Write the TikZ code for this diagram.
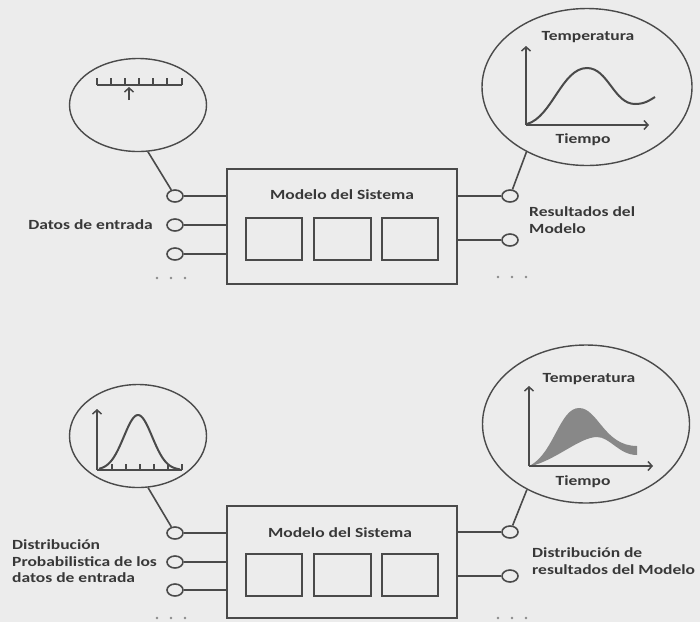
\documentclass[tikz,border=0pt]{standalone}
\usepackage{fontspec}
\newfontfamily\lbl{Carlito}[FakeStretch=1.25]
\usetikzlibrary{shapes.geometric,arrows.meta}
\definecolor{bg}{HTML}{ECECEC}
\definecolor{linec}{HTML}{4A4A4A}
\definecolor{textc}{HTML}{383838}
\definecolor{bandc}{HTML}{888888}
\definecolor{dotcol}{HTML}{8A8A8A}
\begin{document}
\begin{tikzpicture}[x=1pt,y=-1pt,
  port/.style={ellipse, draw=linec, line width=1.6pt, minimum width=16pt, minimum height=12pt, inner sep=0pt},
  bubble/.style={ellipse, draw=linec, line width=1.4pt, inner sep=0pt},
  sysbox/.style={draw=linec, line width=1.6pt, minimum width=230pt, inner sep=0pt},
  inbox/.style={draw=linec, line width=1.6pt, minimum height=42pt, inner sep=0pt},
  lab/.style={font=\lbl\bfseries\fontsize{14}{16.5}\selectfont, text=textc, inner sep=0pt},
  wire/.style={draw=linec, line width=1.6pt},
  ax/.style={draw=linec, line width=1.5pt},
  tip/.style={-{Straight Barb[length=4pt,width=9pt]}},
  dotc/.style={fill=dotcol}
]
\fill[bg] (0,0) rectangle (700,622);
\useasboundingbox (0,0) rectangle (700,622);

% ================= TOP DIAGRAM =================
\node[sysbox, minimum height=115pt] (sysA) at (342,226.5) {};
\node[lab] (titA) at (342,195) {Modelo del Sistema};
\node[inbox, minimum width=56pt] (ia1) at (274,239) {};
\node[inbox, minimum width=57pt] (ia2) at (342.5,239) {};
\node[inbox, minimum width=56pt] (ia3) at (410,239) {};

\node[port] (pa1) at (175,196) {};
\node[port] (pa2) at (175,225) {};
\node[port] (pa3) at (175,254) {};
\node[port] (qa1) at (510,196) {};
\node[port] (qa2) at (510,240) {};
\foreach \p in {pa1,pa2,pa3} \draw[wire] (\p) -- (\p -| sysA.west);
\foreach \q in {qa1,qa2} \draw[wire] (\q -| sysA.east) -- (\q);

\node[lab, anchor=east] (inA) at (153,225) {Datos de entrada};
\node[lab, anchor=west, align=left] (outA) at (529,220) {Resultados del\\Modelo};

\foreach \x in {157,171,185} \fill[dotc] (\x,278) circle (1.4pt);
\foreach \x in {498,512,526} \fill[dotc] (\x,277) circle (1.4pt);

% input bubble (scale)
\node[bubble, minimum width=137pt, minimum height=93pt] (bA) at (138,105) {};
\draw[wire] (bA.-78) -- (pa1);
\draw[ax] (97,85) -- (182,85);
\foreach \x in {97,111,125,139,153,167,182} \draw[ax] (\x,85) -- (\x,78);
\draw[ax, tip] (129,100) -- (129,87);

% output bubble (curve)
\node[bubble, minimum width=210pt, minimum height=157pt] (cA) at (587,87) {};
\draw[wire] (cA.-133) -- (qa1);
\draw[ax, tip] (526,125) -- (526,46);
\draw[ax, tip] (526,125) -- (649,125);
\draw[linec, line width=2pt] (527,124) .. controls (552,117) and (562,68) .. (587,68)
   .. controls (608,68) and (614,104) .. (635,104) .. controls (645,104) and (650,100) .. (655,97);
\node[lab] (tA1) at (588,37) {Temperatura};
\node[lab] (tA2) at (583,140) {Tiempo};

% ================= BOTTOM DIAGRAM =================
\node[sysbox, minimum height=112pt] (sysB) at (342,562) {};
\node[lab] (titB) at (340,533) {Modelo del Sistema};
\node[inbox, minimum width=56pt] (ib1) at (274,575) {};
\node[inbox, minimum width=57pt] (ib2) at (342.5,575) {};
\node[inbox, minimum width=56pt] (ib3) at (410,575) {};

\node[port] (pb1) at (175,533) {};
\node[port] (pb2) at (175,562) {};
\node[port] (pb3) at (175,590) {};
\node[port] (qb1) at (510,532) {};
\node[port] (qb2) at (510,576) {};
\foreach \p in {pb1,pb2,pb3} \draw[wire] (\p) -- (\p -| sysB.west);
\foreach \q in {qb1,qb2} \draw[wire] (\q -| sysB.east) -- (\q);

\node[lab, anchor=west, align=left] (inB) at (12,561.5) {Distribución\\Probabilistica de los\\datos de entrada};
\node[lab, anchor=west, align=left] (outB) at (532,561) {Distribución de\\resultados del Modelo};

\foreach \x in {157,171,185} \fill[dotc] (\x,618) circle (1.4pt);
\foreach \x in {498,512,526} \fill[dotc] (\x,618) circle (1.4pt);

% input bubble (bell)
\node[bubble, minimum width=137pt, minimum height=103pt] (bB) at (138,436) {};
\draw[wire] (bB.-79) -- (pb1);
\draw[ax, tip] (97,470) -- (97,409);
\draw[ax] (97,470) -- (182,470);
\foreach \x in {112,126,140,154,168,182} \draw[ax] (\x,470) -- (\x,464);
\draw[linec, line width=2pt] plot[domain=99:180, samples=60, smooth] (\x, {470-55*exp(-((\x-138)/20)^2)});

% output bubble (band)
\node[bubble, minimum width=207pt, minimum height=158pt] (cB) at (586,424) {};
\draw[wire] (cB.-132) -- (qb1);
\fill[bandc] (531,465) .. controls (554,452) and (560,408) .. (579,408)
   .. controls (598,408) and (604,446) .. (637,446) -- (637,455)
   .. controls (619,455) and (610,437) .. (597,437)
   .. controls (580,437) and (556,460) .. (531,466) -- cycle;
\draw[ax, tip] (529,466) -- (529,386);
\draw[ax, tip] (529,466) -- (653,466);
\node[lab] (tB1) at (589,379) {Temperatura};
\node[lab] (tB2) at (583,482) {Tiempo};
\end{tikzpicture}
\end{document}
